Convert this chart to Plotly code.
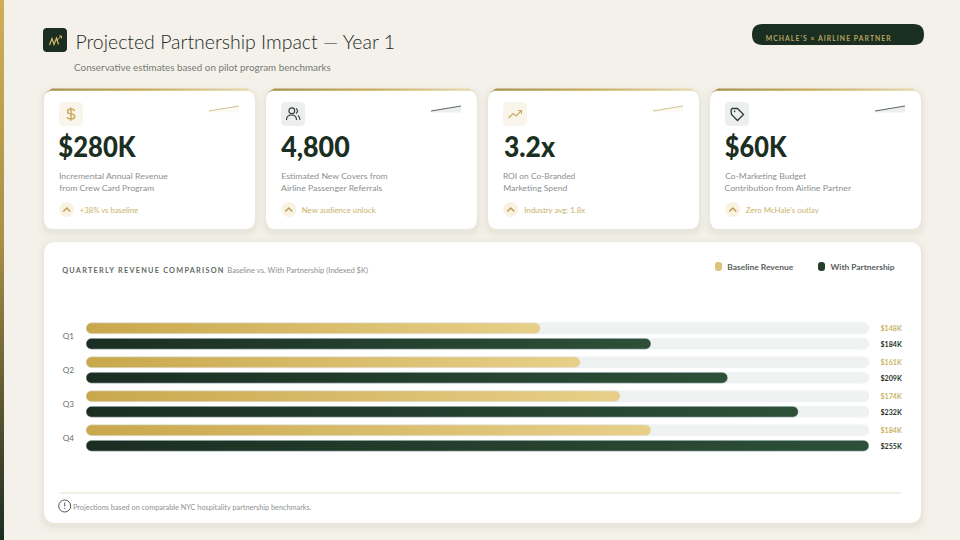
import json
import plotly.graph_objects as go

# ---- chart data ----
quarters = ["Q1", "Q2", "Q3", "Q4"]
baseline_revenue = [148, 161, 174, 184]
with_partnership = [184, 209, 232, 255]
axis_max = 255

kpi_values = ["$280K", "4,800", "3.2x", "$60K"]
kpi_line1 = ["Incremental Annual Revenue", "Estimated New Covers from", "ROI on Co-Branded", "Co-Marketing Budget"]
kpi_line2 = ["from Crew Card Program", "Airline Passenger Referrals", "Marketing Spend", "Contribution from Airline Partner"]
kpi_notes = ["+38% vs baseline", "New audience unlock", "Industry avg: 1.8x", "Zero McHale's outlay"]
spark_start = [111, 111, 111, 111]
spark_end = [106, 106, 106, 106]

# ---- palette ----
PAGE = "#f4f1ea"
GREEN = "#1a2e22"
GOLD_TEXT = "#c8b469"
TRACK = "#f0f2f1"
FONT = "Lato"

card_left = [44, 266, 488, 710]
card_width = 211
card_top, card_bottom = 90.5, 229

# Text extents along x for each caption block
value_extent = [(59.3, 136.5), (281, 349.5), (504, 555), (726, 787.7)]
line1_extent = [(59.3, 168.3), (281, 387.3), (503.3, 575.7), (725, 806)]
line2_extent = [(59.3, 154.3), (281, 382.3), (503.3, 567.3), (725, 851.7)]
note_extent = [(80, 138.3), (302, 376), (524, 585), (746, 819)]


def rrect(x0, y0, x1, y1, r):
    """Rounded rectangle as an SVG path in canvas pixels."""
    return (
        f"M{x0 + r},{y0} L{x1 - r},{y0} Q{x1},{y0} {x1},{y0 + r} "
        f"L{x1},{y1 - r} Q{x1},{y1} {x1 - r},{y1} L{x0 + r},{y1} "
        f"Q{x0},{y1} {x0},{y1 - r} L{x0},{y0 + r} Q{x0},{y0} {x0 + r},{y0} Z"
    )


shapes = []
annotations = []
text_fit = {}


def add_path(path, fill=None, line=None, width=1, layer="below"):
    shapes.append(dict(
        type="path", path=path, xref="x", yref="y", layer=layer,
        fillcolor=fill or "rgba(0,0,0,0)",
        line=dict(color=line or "rgba(0,0,0,0)", width=width if line else 0),
    ))


def add_circle(cx, cy, r, fill=None, line=None, width=1, layer="above"):
    shapes.append(dict(
        type="circle", xref="x", yref="y", layer=layer,
        x0=cx - r, x1=cx + r, y0=cy - r, y1=cy + r,
        fillcolor=fill or "rgba(0,0,0,0)",
        line=dict(color=line or "rgba(0,0,0,0)", width=width if line else 0),
    ))


def add_text(x0, x1, y, text, size, color, weight=400, mode="spacingAndGlyphs"):
    """Caption centred on its extent; the page script fits it to that width."""
    annotations.append(dict(
        x=(x0 + x1) / 2, y=y, xref="x", yref="y", text=text, showarrow=False,
        xanchor="center", yanchor="middle", align="center",
        font=dict(family=FONT, size=size, color=color, weight=weight),
    ))
    text_fit[text] = [round(x1 - x0, 1), mode]


def add_card(x0, y0, x1, y1, r):
    for spread, alpha in ((7, 0.01), (5, 0.014), (3, 0.02), (1.5, 0.028)):
        add_path(rrect(x0 - spread, y0 - spread + 2, x1 + spread, y1 + spread + 3, r + spread),
                 fill=f"rgba(120,100,60,{alpha})")
    add_path(rrect(x0, y0, x1, y1, r), fill="#ffffff")


# ---- header ----
add_path(rrect(43, 28, 67, 52, 4), fill=GREEN)
add_path("M49.5,45 L52,38.5 L54,44.5 L56.5,38 L58.5,44.5", line="#d9bd6a", width=1.2, layer="above")
add_path("M56.5,40.5 L61.5,36 M59,36 L61.5,36 L61.5,38.5", line="#d9bd6a", width=0.9, layer="above")
add_text(74.7, 394.3, 41.4, "Projected Partnership Impact — Year 1", 20.5, "#222a26", weight=300)
add_text(74, 330.7, 67.7, "Conservative estimates based on pilot program benchmarks", 9.4, "#767a76")

add_path(rrect(752, 24, 924, 45, 10.5), fill=GREEN)
add_text(766, 891, 37.5, "MCHALE'S × AIRLINE PARTNER", 6.8, "#b9a55c", weight=700, mode="spacing")

# ---- KPI cards ----
for i, left in enumerate(card_left):
    add_card(left, card_top, left + card_width, card_bottom, 10)
    gold_card = i % 2 == 0
    ink = "#c9ac5c" if gold_card else "#2b3a32"
    add_path(rrect(left + 15, 102, left + 39, 126, 5), fill="#f9f5ea" if gold_card else "#edefee")
    ox, oy = left + 15, 102
    if i == 0:
        add_path(f"M{ox+15.5},{oy+9} Q{ox+15},{oy+7} {ox+12},{oy+7} Q{ox+8.5},{oy+7} {ox+8.5},{oy+9.6} "
                 f"Q{ox+8.5},{oy+11.8} {ox+12},{oy+12} Q{ox+15.8},{oy+12.2} {ox+15.8},{oy+14.6} "
                 f"Q{ox+15.5},{oy+17} {ox+12},{oy+17} Q{ox+8.5},{oy+17} {ox+8.2},{oy+15} "
                 f"M{ox+12},{oy+5.5} L{ox+12},{oy+18.8}", line=ink, width=1.5, layer="above")
    elif i == 1:
        add_path(f"M{ox+5.5},{oy+18} Q{ox+5.5},{oy+13} {ox+10.5},{oy+13} Q{ox+15.5},{oy+13} {ox+15.5},{oy+18} "
                 f"M{ox+15},{oy+6.3} Q{ox+18},{oy+9} {ox+15},{oy+11.7} "
                 f"M{ox+17},{oy+13.3} Q{ox+19},{oy+15} {ox+19},{oy+18}", line=ink, width=1.1, layer="above")
        add_circle(ox + 10.8, oy + 8.8, 2.9, line=ink, width=1.1)
    elif i == 2:
        add_path(f"M{ox+5.5},{oy+16} L{ox+10},{oy+11.5} L{ox+13},{oy+14} L{ox+18.5},{oy+8.5} "
                 f"M{ox+15},{oy+8.5} L{ox+18.5},{oy+8.5} L{ox+18.5},{oy+12}", line=ink, width=1.1, layer="above")
    else:
        add_path(f"M{ox+6},{oy+8} L{ox+7},{oy+6.5} L{ox+12.5},{oy+6.5} L{ox+18.5},{oy+12.5} "
                 f"L{ox+12.5},{oy+18.5} L{ox+6.5},{oy+12.5} Z", line=ink, width=1.3, layer="above")
        add_circle(ox + 9.6, oy + 9.4, 0.8, fill=ink)

    add_text(*value_extent[i], 145.8, kpi_values[i], 28.5, GREEN, weight=900)
    add_text(*line1_extent[i], 176, kpi_line1[i], 8.4, "#8c9091")
    add_text(*line2_extent[i], 188.3, kpi_line2[i], 8.4, "#8c9091")
    add_circle(left + 22.8, 209.5, 7.5, fill="#f9f2e0", layer="below")
    add_path(f"M{left+19.3},{211.5} L{left+22.8},{208} L{left+26.3},{211.5}", line="#b79f55", width=1.5, layer="above")
    add_text(*note_extent[i], 210.3, kpi_notes[i], 7.4, GOLD_TEXT)

# ---- comparison panel ----
add_card(44, 242, 921, 523, 12)
add_text(62, 223.3, 270, "QUARTERLY REVENUE COMPARISON", 7.3, "#5f6a64", weight=700, mode="spacing")
add_text(227.3, 368, 270.5, "Baseline vs. With Partnership (Indexed $K)", 7.2, "#8d9090")

add_path(rrect(715, 262, 722, 271, 3), fill="#dcc27c")
add_text(727.3, 793.3, 267, "Baseline Revenue", 8, "#5a605c", weight=700)
add_path(rrect(818, 262, 825, 271, 3), fill="#23402f")
add_text(830, 894, 267, "With Partnership", 8, "#5a605c", weight=700)

add_path("M60,493 L901,493", line="#e3dfc9", width=1)
add_circle(64.7, 506, 6, line="#55595a", width=1)
add_path("M64.7,502.5 L64.7,506.5 M64.7,508 L64.7,509", line="#55595a", width=1, layer="above")
add_text(73.3, 311.7, 507.7, "Projections based on comparable NYC hospitality partnership benchmarks.", 7.2, "#8f9292")

traces = []

# Accent strips: page edge and the top edge of each card
traces.append(go.Scatter(
    x=[0, 4, 4, 0, 0], y=[0, 0, 540, 540, 0], mode="none", fill="toself", hoverinfo="skip",
    fillgradient=dict(type="vertical", colorscale=[[0, GREEN], [0.12, "#3a3f28"], [0.55, "#a98f46"], [1, "#d0ae55"]]),
    xaxis="x", yaxis="y", showlegend=False,
))
for left in card_left:
    x0, x1 = left, left + card_width
    traces.append(go.Scatter(
        x=[x0 + 1, x0 + 8, x1 - 8, x1 - 1, x1 - 6, x0 + 6, x0 + 1],
        y=[93, 88.5, 88.5, 93, 90.8, 90.8, 93],
        mode="none", fill="toself", hoverinfo="skip",
        fillgradient=dict(type="horizontal", colorscale=[[0, "#a8904a"], [0.5, "#c9ae62"], [1, "#e9dcb4"]]),
        xaxis="x", yaxis="y", showlegend=False,
    ))

# Sparklines in the corner of each KPI card
for i, left in enumerate(card_left):
    gold_card = i % 2 == 0
    x = [left + 165, left + 195]
    y = [spark_start[i], spark_end[i]]
    traces.append(go.Scatter(
        x=x + x[::-1], y=y + [112.5, 112.5], mode="none", fill="toself", hoverinfo="skip",
        fillcolor="rgba(201,168,76,0.07)" if gold_card else "rgba(26,46,34,0.08)",
        xaxis="x", yaxis="y", showlegend=False,
    ))
    traces.append(go.Scatter(
        x=x, y=y, mode="lines", hoverinfo="skip",
        line=dict(color="#cdbb84" if gold_card else "#4a544e", width=0.9),
        xaxis="x", yaxis="y", showlegend=False,
    ))

# Quarterly bars: pale tracks underneath, revenue on top
common = dict(orientation="h", y=quarters, xaxis="x2", yaxis="y2", showlegend=False, hoverinfo="skip")
traces.append(go.Bar(x=[axis_max] * 4, offsetgroup="baseline", name="track", marker=dict(color=TRACK), **common))
traces.append(go.Bar(x=[axis_max] * 4, offsetgroup="partner", name="track", marker=dict(color=TRACK), **common))
traces.append(go.Bar(x=baseline_revenue, offsetgroup="baseline", name="Baseline Revenue", marker=dict(color="#d8bc6c"), **common))
traces.append(go.Bar(x=with_partnership, offsetgroup="partner", name="With Partnership", marker=dict(color="#23402f"), **common))

for q, a, b in zip(quarters, baseline_revenue, with_partnership):
    for val, shift, col in ((a, 8, GOLD_TEXT), (b, -8, "#2a342e")):
        label = f"${val}K"
        annotations.append(dict(x=axis_max, y=q, xref="x2", yref="y2", xshift=22.7, yshift=shift, text=label,
                                showarrow=False, xanchor="center", yanchor="middle", align="center",
                                font=dict(family=FONT, size=7.4, color=col, weight=700)))
        text_fit[label] = [21.3, "spacingAndGlyphs"]

fig = go.Figure(traces)
fig.update_layout(
    width=960, height=540, margin=dict(l=0, r=0, t=0, b=0),
    paper_bgcolor=PAGE, plot_bgcolor="rgba(0,0,0,0)",
    barmode="group", bargap=0.088, bargroupgap=0.3,
    shapes=shapes, annotations=annotations,
    # full-page pixel canvas for the furniture
    xaxis=dict(domain=[0, 1], range=[0, 960], visible=False, fixedrange=True),
    yaxis=dict(domain=[0, 1], range=[540, 0], visible=False, fixedrange=True),
    # revenue scale for the bars
    xaxis2=dict(domain=[86 / 960, 869 / 960], range=[0, axis_max], anchor="y2", visible=False, fixedrange=True),
    yaxis2=dict(domain=[1 - 455 / 540, 1 - 319 / 540], range=[3.5, -0.5], anchor="x2", type="category",
                categoryorder="array", categoryarray=quarters, fixedrange=True,
                showgrid=False, showline=False, zeroline=False, ticks="",
                ticklabelstandoff=11, tickfont=dict(family=FONT, size=8.2, color="#6e6e6c")),
)

# Pill-shaped bars with horizontal gradients, and captions fitted to their set widths
post_script = """
var gd = document.querySelector('.plotly-graph-div');
var FIT = %s;
function dress() {
  var svg = gd.querySelector('svg.main-svg');
  var ns = 'http://www.w3.org/2000/svg';
  if (!document.getElementById('barGold')) {
    var defs = document.createElementNS(ns, 'defs');
    [['barGold', '#c9a84c', '#e8d08a'], ['barGreen', '#1a2e22', '#2d5038']].forEach(function (g) {
      var lg = document.createElementNS(ns, 'linearGradient');
      lg.setAttribute('id', g[0]);
      [[0, g[1]], [1, g[2]]].forEach(function (s) {
        var st = document.createElementNS(ns, 'stop');
        st.setAttribute('offset', s[0]);
        st.setAttribute('stop-color', s[1]);
        lg.appendChild(st);
      });
      defs.appendChild(lg);
    });
    svg.insertBefore(defs, svg.firstChild);
  }
  gd.querySelectorAll('.barlayer .trace').forEach(function (t, i) {
    var fill = i === 2 ? 'url(#barGold)' : i === 3 ? 'url(#barGreen)' : null;
    t.querySelectorAll('path').forEach(function (p) {
      var b = p.getBBox();
      var r = b.height / 2;
      p.setAttribute('d', 'M' + (b.x + r) + ',' + b.y + 'H' + (b.x + b.width - r) +
        'A' + r + ',' + r + ' 0 0 1 ' + (b.x + b.width - r) + ',' + (b.y + b.height) +
        'H' + (b.x + r) + 'A' + r + ',' + r + ' 0 0 1 ' + (b.x + r) + ',' + b.y + 'Z');
      if (fill) p.style.fill = fill;
    });
  });
  gd.querySelectorAll('.annotation-text').forEach(function (a) {
    var f = FIT[a.textContent];
    if (f) {
      a.setAttribute('textLength', f[0]);
      a.setAttribute('lengthAdjust', f[1]);
    }
  });
}
dress();
""" % json.dumps(text_fit)

fig.write_html("out.html", post_script=post_script)
